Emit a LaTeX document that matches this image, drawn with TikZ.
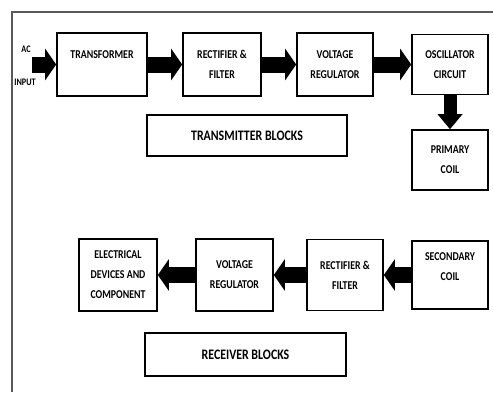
\documentclass[tikz,border=0pt]{standalone}
\usepackage{fontspec}
\setmainfont{Carlito}
\newfontfamily\narrowfont[FakeStretch=0.82]{Carlito}
\usetikzlibrary{arrows.meta}

\begin{document}
\begin{tikzpicture}[x=1pt,y=-1pt]
	 \tikzstyle{block}=[draw=black,line width=1.6pt,inner sep=2pt,align=center,font=\narrowfont\bfseries\fontsize{12}{20}\selectfont]
	 \tikzstyle{title block}=[block,font=\narrowfont\bfseries\fontsize{14.5}{16}\selectfont]
	 \tikzstyle{power} = [draw=black,line width=16pt,-{Triangle[length=11pt,width=31pt]}]
	 \tikzstyle{power down} = [draw=black,line width=13pt,-{Triangle[length=15pt,width=24pt]}]
	 \tikzstyle{tag} = [font=\narrowfont\bfseries\fontsize{10}{10}\selectfont,inner sep=0pt]

	 \useasboundingbox (0,0) rectangle (493,392);
	 \draw[line width=1.8pt,black!65] (12,392) -- (12,12) -- (493,12);

	% transmitter side
	 \node[block,minimum width=90pt,minimum height=63pt] (trans) at (102,64.5) {TRANSFORMER\\\mbox{}};
	 \node[block,minimum width=78pt,minimum height=63pt] (rect1) at (222,64.5) {RECTIFIER \&\\FILTER};
	 \node[block,minimum width=76pt,minimum height=63pt] (reg1) at (335,64.5) {VOLTAGE\\REGULATOR};
	 \node[block,minimum width=76pt,minimum height=60pt] (osc) at (450,64.5) {OSCILLATOR\\CIRCUIT};
	 \node[block,minimum width=76pt,minimum height=60pt] (prim) at (450,160) {PRIMARY\\COIL};
	 \node[title block,minimum width=200pt,minimum height=41pt] (tx) at (247,135.5) {TRANSMITTER BLOCKS};

	 \node[tag] (ac) at (26,49) {AC};
	 \node[tag] (input) at (25,82) {INPUT};
	 \coordinate (mains) at (32,64.5);

	 \draw[power] (mains) -- (trans.west);
	 \draw[power] (trans) -- (rect1);
	 \draw[power] (rect1) -- (reg1);
	 \draw[power] (reg1) -- (osc);
	 \draw[power down] (osc) -- (prim);

	% receiver side
	 \node[block,minimum width=76pt,minimum height=68pt] (sec) at (450,275) {SECONDARY\\COIL\\[-4pt]};
	 \node[block,minimum width=76pt,minimum height=71pt] (rect2) at (345,275) {RECTIFIER \&\\FILTER};
	 \node[block,minimum width=77pt,minimum height=72pt] (reg2) at (234.5,275) {VOLTAGE\\REGULATOR};
	 \node[block,minimum width=78pt,minimum height=72pt] (load) at (118,275) {ELECTRICAL\\DEVICES AND\\COMPONENT};
	 \node[title block,minimum width=201pt,minimum height=43pt] (rx) at (245.5,354.5) {RECEIVER BLOCKS};

	 \draw[power] (sec) -- (rect2);
	 \draw[power] (rect2) -- (reg2);
	 \draw[power] (reg2) -- (load);
\end{tikzpicture}
\end{document}
